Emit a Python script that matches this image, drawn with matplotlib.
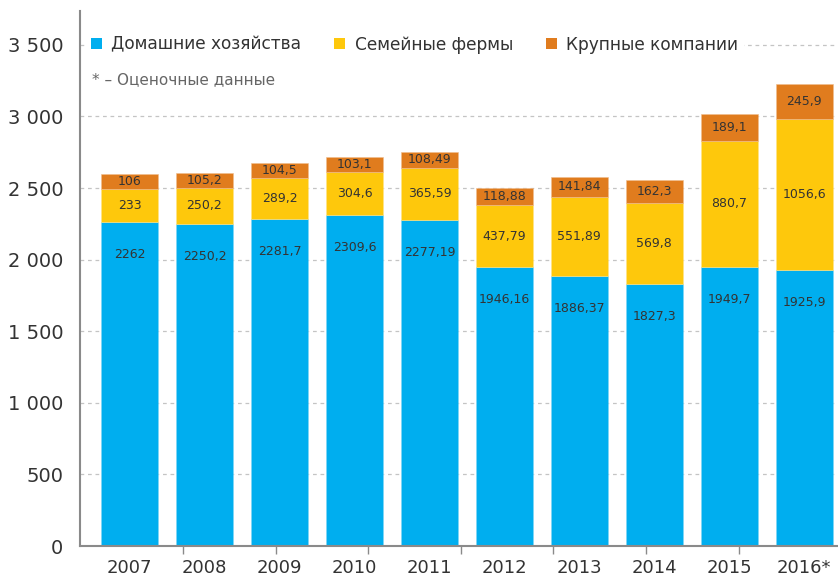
import matplotlib
matplotlib.use("Agg")
import matplotlib.pyplot as plt
from matplotlib.patches import Patch
from matplotlib.ticker import FixedLocator, FuncFormatter
import numpy as np

plt.rcParams['font.family'] = ['DejaVu Sans']

years = ["2007", "2008", "2009", "2010", "2011", "2012", "2013", "2014", "2015", "2016*"]
households = [2262, 2250.2, 2281.7, 2309.6, 2277.19, 1946.16, 1886.37, 1827.3, 1949.7, 1925.9]
family_farms = [233, 250.2, 289.2, 304.6, 365.59, 437.79, 551.89, 569.8, 880.7, 1056.6]
large_companies = [106, 105.2, 104.5, 103.1, 108.49, 118.88, 141.84, 162.3, 189.1, 245.9]
series_names = ["Домашние хозяйства", "Семейные фермы", "Крупные компании"]
note = "* – Оценочные данные"

c_blue = "#00AEEF"
c_yellow = "#FEC80C"
c_orange = "#E07C1E"
txt = "#333333"
axis_col = "#8a8a8a"


def fmt_val(v):
    s = ("%.2f" % v).rstrip("0").rstrip(".")
    return s.replace(".", ",")


fig = plt.figure(figsize=(8.38, 5.77), dpi=100)
ax = fig.add_axes([0.0955, 0.0537, 0.9045, 0.9273])

x = np.arange(len(years))
w = 0.76
hh = np.array(households)
ff = np.array(family_farms)
lc = np.array(large_companies)

ax.bar(x, hh, w, color=c_blue, zorder=2, edgecolor="#7fd6f7", linewidth=0.4)
ax.bar(x, ff, w, bottom=hh, color=c_yellow, zorder=2, edgecolor="#fee38a", linewidth=0.4)
ax.bar(x, lc, w, bottom=hh + ff, color=c_orange, zorder=2, edgecolor="#efbd8e", linewidth=0.4)

for i in range(len(years)):
    ax.text(x[i], hh[i] - 225, fmt_val(hh[i]), ha="center", va="center",
            fontsize=9, color=txt, zorder=4)
    ax.text(x[i], hh[i] + ff[i] / 2, fmt_val(ff[i]), ha="center", va="center",
            fontsize=9, color=txt, zorder=4)
    ax.text(x[i], hh[i] + ff[i] + lc[i] / 2, fmt_val(lc[i]), ha="center", va="center",
            fontsize=9, color=txt, zorder=4)

ax.set_xlim(-0.66, 9.45)
ax.set_ylim(0, 3737)

yt = [0, 500, 1000, 1500, 2000, 2500, 3000, 3500]
ax.yaxis.set_major_locator(FixedLocator(yt))
ax.yaxis.set_major_formatter(FuncFormatter(lambda v, p: ("{:,.0f}".format(v)).replace(",", " ")))
ax.tick_params(axis="y", length=0, labelsize=14, labelcolor=txt, pad=12)

for v in yt[1:]:
    ax.axhline(v, color="#c4c4c4", linestyle=(0, (3, 3)), linewidth=0.9, zorder=1)

ax.set_xticks(x)
ax.set_xticklabels(years)
ax.tick_params(axis="x", which="major", length=0, labelsize=13, labelcolor=txt, pad=9)
minor_pos = 0.713 + 1.235 * np.arange(7)
ax.set_xticks(minor_pos, minor=True)
ax.tick_params(axis="x", which="minor", length=6, width=1, color=axis_col)

for s in ["top", "right"]:
    ax.spines[s].set_visible(False)
for s in ["left", "bottom"]:
    ax.spines[s].set_color(axis_col)
    ax.spines[s].set_linewidth(1.5)
    ax.spines[s].set_zorder(8)

handles = [Patch(facecolor=c, edgecolor="none") for c in (c_blue, c_yellow, c_orange)]
leg = ax.legend(handles, series_names, ncol=3, loc="upper left",
                bbox_to_anchor=(0.0066, 0.965), frameon=True, fontsize=12.25,
                handlelength=0.64, handleheight=0.64, handletextpad=0.55,
                columnspacing=1.95, borderpad=0.35, borderaxespad=0.0)
leg.get_frame().set_facecolor("white")
leg.get_frame().set_edgecolor("none")
leg.get_frame().set_alpha(1)
leg.set_zorder(6)
for t in leg.get_texts():
    t.set_color(txt)

fig.text(92 / 838, 1 - 80 / 577, note, fontsize=11, color="#666666", va="center", ha="left")

fig.savefig("out.png", dpi=100)
